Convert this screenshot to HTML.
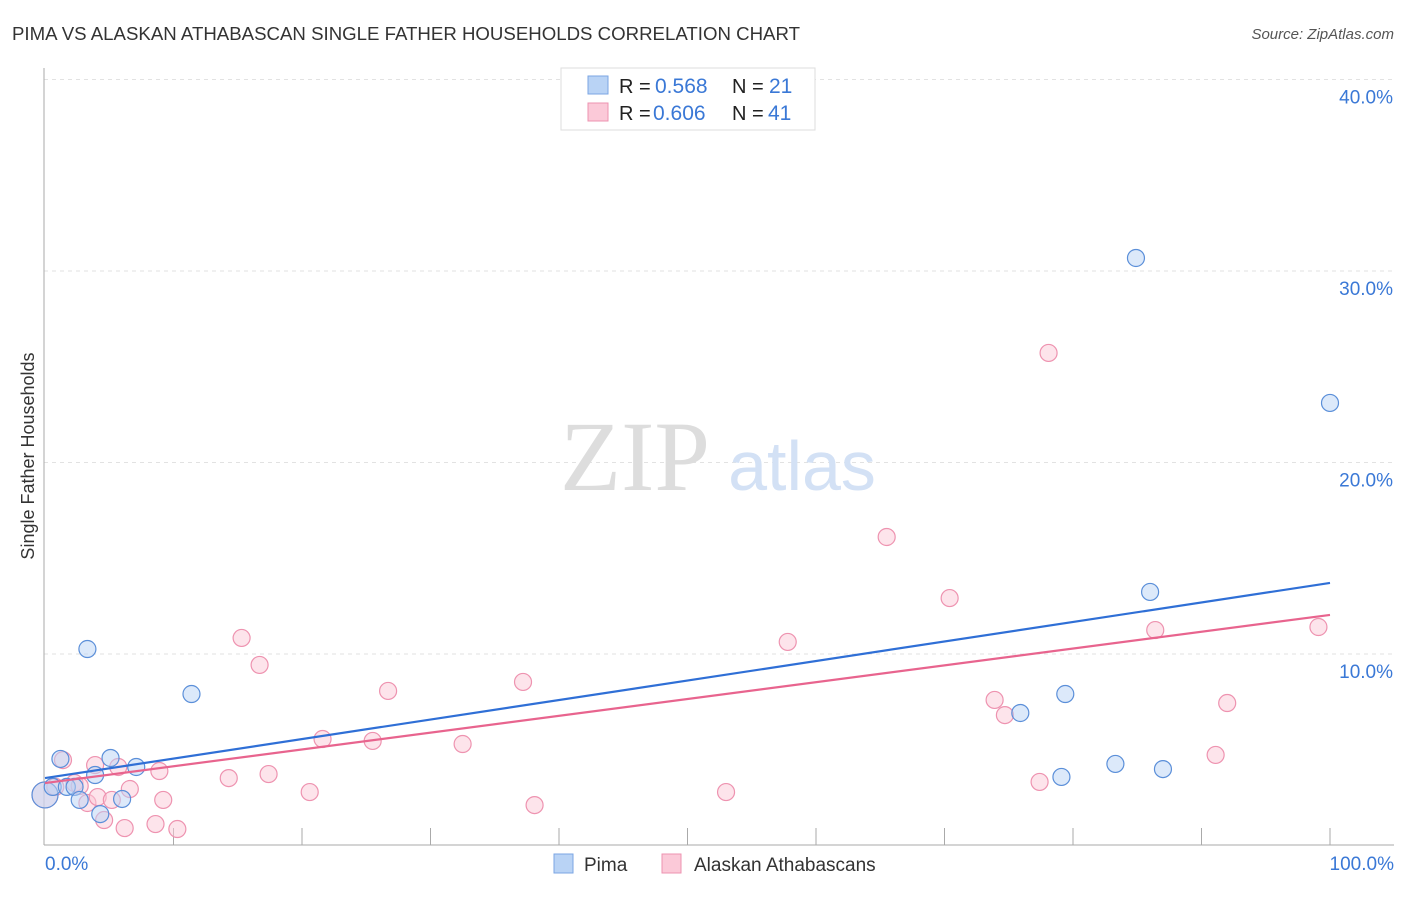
<!DOCTYPE html>
<html><head><meta charset="utf-8"><style>
body{margin:0;background:#fff;font-family:"Liberation Sans",sans-serif;}
svg text{font-family:"Liberation Sans",sans-serif;}
svg text.serif{font-family:"Liberation Serif",serif;}
</style></head><body>
<svg id="chart" width="1406" height="892">
<text x="12" y="40" font-size="18" fill="#333" textLength="788" lengthAdjust="spacingAndGlyphs">PIMA VS ALASKAN ATHABASCAN SINGLE FATHER HOUSEHOLDS CORRELATION CHART</text>
<text x="1394" y="39" font-size="15" fill="#555" font-style="italic" text-anchor="end">Source: ZipAtlas.com</text>
<g id="grid"></g>
<g><text class="serif" x="635" y="490" font-size="100" fill="#ddd" text-anchor="middle">ZIP</text><text x="802" y="490" font-size="70" fill="#d3e1f5" text-anchor="middle">atlas</text></g>
<line x1="44" y1="68" x2="44" y2="845" stroke="#aaa"/>
<line x1="44" y1="845" x2="1394" y2="845" stroke="#aaa"/>
<g id="ticks"></g>
<g id="marks"></g>
<text transform="translate(34,456) rotate(-90)" font-size="18" fill="#333" text-anchor="middle">Single Father Households</text>
<text x="45" y="870" font-size="19" fill="#3a78d6">0.0%</text>
<text x="1394" y="870" font-size="19" fill="#3a78d6" text-anchor="end">100.0%</text>
<g>
<rect x="561" y="68" width="254" height="62" fill="#fff" stroke="#ddd"/>
<rect x="588" y="76" width="20" height="18" fill="#b9d3f5" stroke="#7ba6e3"/>
<rect x="588" y="103" width="20" height="18" fill="#fbc9d8" stroke="#ee93b0"/>
<text x="619" y="93" font-size="20" fill="#222">R =</text><text x="655" y="93" font-size="21" fill="#3a78d6">0.568</text>
<text x="732" y="93" font-size="20" fill="#222">N =</text><text x="769" y="93" font-size="21" fill="#3a78d6">21</text>
<text x="619" y="120" font-size="20" fill="#222">R =</text><text x="653" y="120" font-size="21" fill="#3a78d6">0.606</text>
<text x="732" y="120" font-size="20" fill="#222">N =</text><text x="768" y="120" font-size="21" fill="#3a78d6">41</text>
</g>
<g>
<rect x="554" y="854" width="19" height="19" fill="#b9d3f5" stroke="#7ba6e3"/>
<text x="584" y="871" font-size="19" fill="#333">Pima</text>
<rect x="662" y="854" width="19" height="19" fill="#fbc9d8" stroke="#ee93b0"/>
<text x="694" y="871" font-size="19" fill="#333">Alaskan Athabascans</text>
</g>
</svg>
<script>
const yTicks=[10,20,30,40];
const yTickLabels=["10.0%","20.0%","30.0%","40.0%"];
const pimaX=[0,0.6,1.2,1.7,2.3,2.7,3.3,3.9,4.3,5.1,6.0,7.1,11.4,75.9,79.1,79.4,83.3,84.9,86.0,87.0,100];
const pimaY=[2.64,3.06,4.52,3.06,3.06,2.38,10.26,3.68,1.64,4.57,2.43,4.10,7.91,6.92,3.58,7.91,4.26,30.68,13.24,3.99,23.11];
const alaskX=[0,0.8,1.4,2.3,2.7,3.3,3.9,4.1,4.6,5.2,5.7,6.2,6.6,8.6,8.9,9.2,10.3,14.3,15.3,16.7,17.4,20.6,21.6,25.5,26.7,32.5,37.2,38.1,53.0,57.8,65.5,70.4,73.9,74.7,77.4,78.1,86.4,91.1,92.0,99.1];
const alaskY=[2.64,3.06,4.46,3.26,3.11,2.22,4.20,2.53,1.33,2.38,4.10,0.91,2.95,1.12,3.89,2.38,0.86,3.52,10.84,9.43,3.73,2.79,5.56,5.46,8.07,5.30,8.54,2.11,2.79,10.63,16.11,12.92,7.60,6.81,3.32,25.72,11.25,4.73,7.44,11.41];
const pimaTrend=[3.52,13.71];
const alaskTrend=[3.26,12.04];
const NS="http://www.w3.org/2000/svg";
const X=v=>45+v*12.85, Y=v=>845.5-v*19.15;
function mk(t,a,p){const e=document.createElementNS(NS,t);for(const k in a)e.setAttribute(k,a[k]);p.appendChild(e);return e;}
const grid=document.getElementById('grid'),ticks=document.getElementById('ticks'),marks=document.getElementById('marks');
yTicks.forEach((v,i)=>{
 const l=mk('line',{x1:44,x2:1394,y1:Y(v),y2:Y(v),stroke:'#e2e2e2','stroke-dasharray':'4,4'},grid);
 
 
 const t=mk('text',{x:1393,y:Y(v)+24,'font-size':19,fill:'#3a78d6','text-anchor':'end'},grid);
 t.textContent=yTickLabels[i];
 
 
});
for(let i=1;i<=10;i++){
 const l=mk('line',{x1:X(i*10),x2:X(i*10),y1:828,y2:845,stroke:'#aaa'},ticks);
 
 
}
function pts(xs,ys,fill,stroke,name){
 xs.forEach((x,i)=>{
  const c=mk('circle',{cx:X(x),cy:Y(ys[i]),r:(i==0?13:8.5),fill:fill,'fill-opacity':0.5,stroke:stroke,'stroke-width':1.2},marks);
  
  
 });
}
pts(alaskX,alaskY,'#fbc9d8','#ee93b0','alaskan-point');
pts(pimaX,pimaY,'#b9d3f5','#5b8fd9','pima-point');
const t1=mk('line',{x1:X(0),y1:Y(pimaTrend[0]),x2:X(100),y2:Y(pimaTrend[1]),stroke:'#2f6fd6','stroke-width':2.2},marks);


const t2=mk('line',{x1:X(0),y1:Y(alaskTrend[0]),x2:X(100),y2:Y(alaskTrend[1]),stroke:'#e8648e','stroke-width':2.2},marks);


</script>
</body></html>
